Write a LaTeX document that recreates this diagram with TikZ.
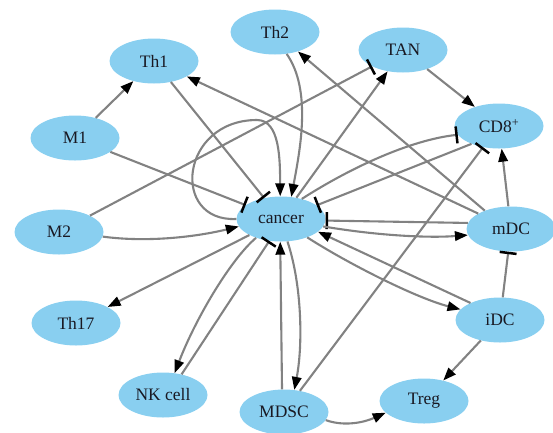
\documentclass[tikz,border=0pt]{standalone}
\usepackage{fontspec}
\setmainfont{Liberation Serif}
\usetikzlibrary{shapes.geometric,arrows.meta}

\definecolor{cellblue}{RGB}{137,207,240}
\definecolor{linkgray}{RGB}{130,130,130}
\definecolor{labelink}{RGB}{25,25,35}

\tikzset{
  cell/.style={ellipse, fill=cellblue, minimum width=89pt, minimum height=45pt,
    inner sep=0pt, text=labelink, font=\fontsize{17.5}{20}\selectfont},
  link/.style={draw=linkgray, line width=2.1pt},
  activates/.style={link, -{Triangle[length=13pt,width=9.5pt,color=black]}},
  inhibits/.style={link, -{Bar[width=17pt,line width=2.5pt,color=black]}},
}

\begin{document}
\begin{tikzpicture}[x=1pt,y=-1pt]
\useasboundingbox (0,0) rectangle (553,432);

% cell populations
\node[cell] (Th1)    at (154,61)  {Th1};
\node[cell] (Th2)    at (275,32)  {Th2};
\node[cell] (TAN)    at (403,50)  {TAN};
\node[cell] (CD8)    at (499,126) {CD8\textsuperscript{+}};
\node[cell] (M1)     at (75,138)  {M1};
\node[cell] (M2)     at (59,232)  {M2};
\node[cell] (Th17)   at (76,323)  {Th17};
\node[cell] (NK)     at (163,395) {NK cell};
\node[cell] (MDSC)   at (284,412) {MDSC};
\node[cell] (Treg)   at (424,401) {Treg};
\node[cell] (iDC)    at (500,320) {iDC};
\node[cell] (mDC)    at (511,229) {mDC};
\node[cell] (cancer) at (281,219) {cancer};

% macrophages
\draw[activates] (M1) -- (Th1);
\draw[inhibits]  (M1) -- (cancer);
\draw[activates] (M2.-6) .. controls (150,243) and (200,236) .. (cancer.190);
\draw[inhibits]  (M2) -- (TAN);

% helper T cells
\draw[inhibits]  (Th1) -- (cancer);
\draw[activates] (Th2.-62) .. controls (312,90) and (300,150) .. (cancer.65);

% tumour self-stimulation
\draw[activates] (cancer.180) .. controls (170,222) and (180,120) .. (257,120)
                 .. controls (280,120) and (280,160) .. (cancer.92);

% neutrophils and cytotoxic T cells
\draw[activates] (cancer) -- (TAN);
\draw[activates] (TAN) -- (CD8);
\draw[inhibits]  (cancer.44) .. controls (350,168) and (410,140) .. (CD8.192);
\draw[inhibits]  (CD8.213) -- (cancer.21);

% dendritic cells
\draw[activates] (mDC) -- (Th1);
\draw[activates] (mDC.145) -- (Th2);
\draw[activates] (mDC) -- (CD8);
\draw[inhibits]  (mDC.172) -- (cancer.-2);
\draw[activates] (cancer.-10) .. controls (380,236) and (430,238) .. (mDC.188);
\draw[activates] (iDC.150) -- (cancer.-19);
\draw[activates] (cancer.-35) .. controls (347,263) and (416,298) .. (iDC.165);
\draw[inhibits]  (iDC) -- (mDC);
\draw[activates] (iDC) -- (Treg);

% suppressor cells
\draw[activates] (MDSC.-11) .. controls (345,427) and (365,422) .. (Treg.197);
\draw[inhibits]  (MDSC) -- (CD8);
\draw[activates] (MDSC.95) -- (cancer.-92);
\draw[activates] (cancer.-74) .. controls (302,285) and (303,345) .. (MDSC.65);

% NK cells and Th17
\draw[inhibits]  (NK.48) -- (cancer.-118);
\draw[activates] (cancer.217) .. controls (230,260) and (195,320) .. (NK.62);
\draw[activates] (cancer) -- (Th17);
\end{tikzpicture}
\end{document}
